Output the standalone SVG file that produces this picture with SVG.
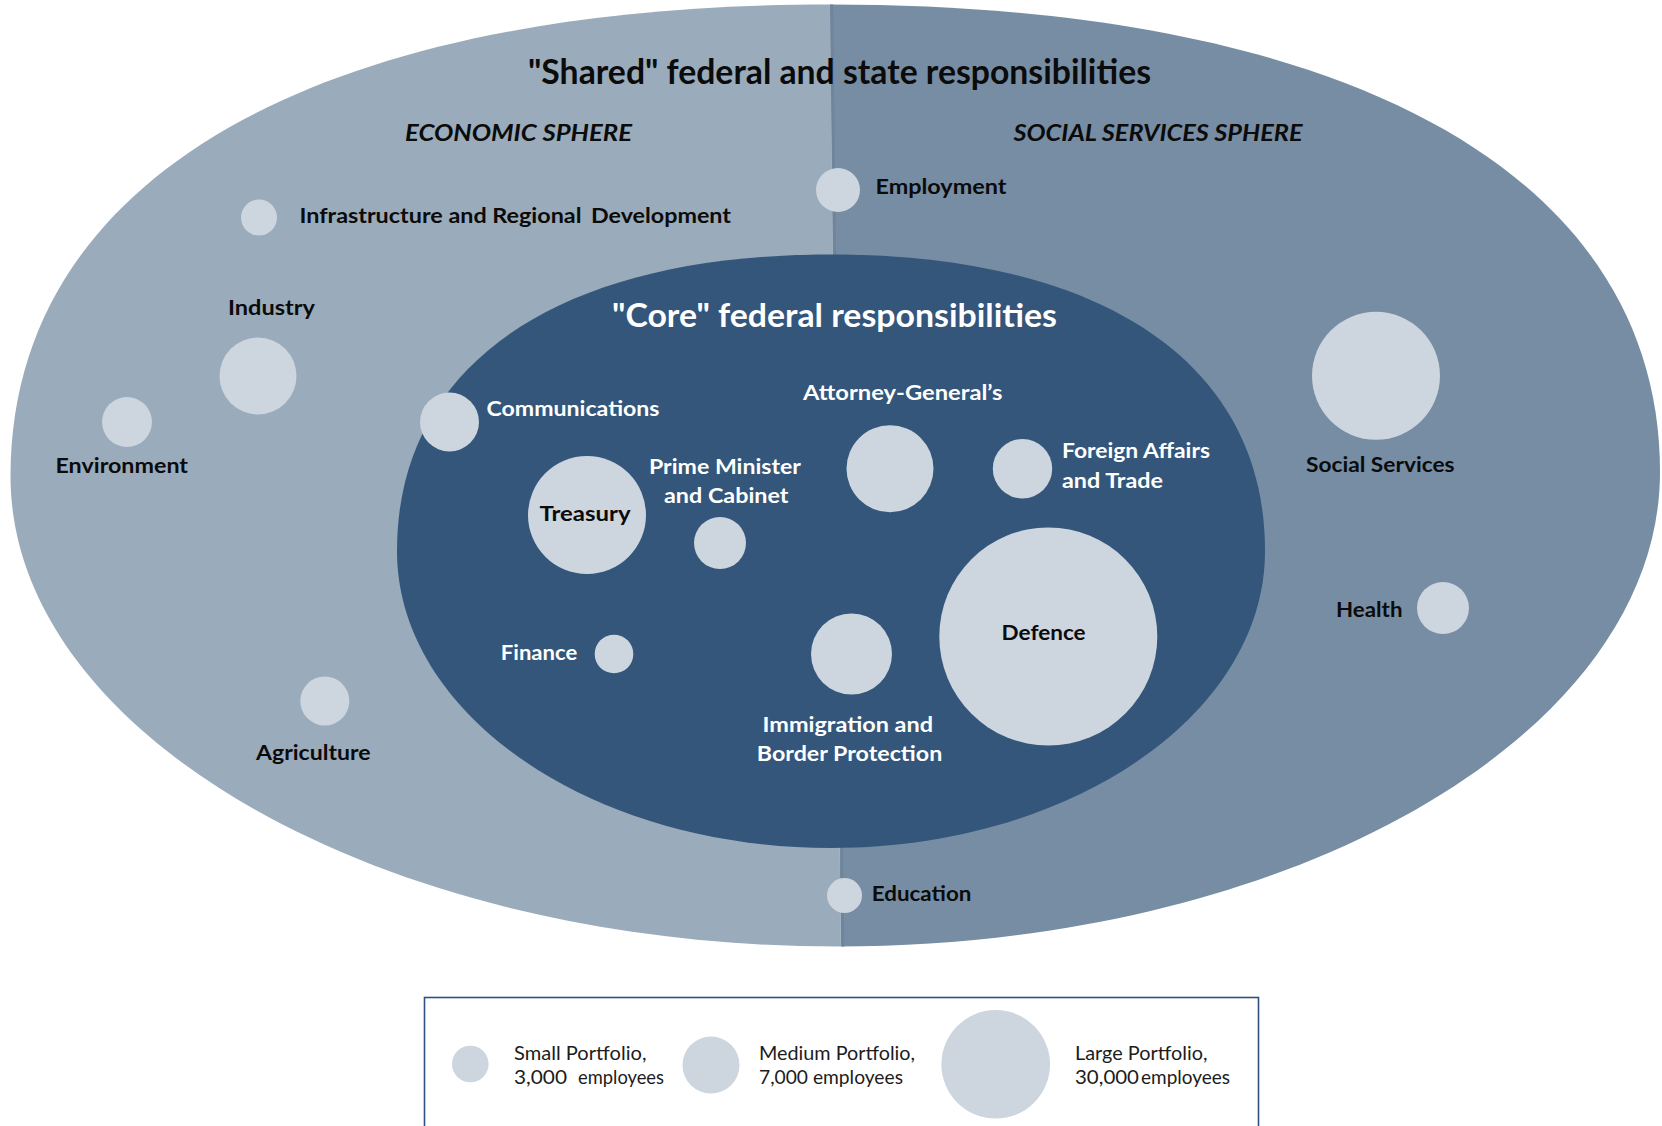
<svg xmlns="http://www.w3.org/2000/svg" width="1662" height="1126" viewBox="0 0 1662 1126">
  <style>
    .bubble { fill: #cdd5df; }
    .lbl { font-family: Lato, "Liberation Sans", Arial, sans-serif; font-weight: 700; font-size: 21.5px; }
    .dark { fill: #0b0b0b; }
    .light { fill: #ffffff; }
    .head { font-family: Lato, "Liberation Sans", Arial, sans-serif; font-weight: 700; }
    .sphere { font-family: Lato, "Liberation Sans", Arial, sans-serif; font-weight: 700; font-style: italic; font-size: 22px; fill: #0b0b0b; }
    .key { font-family: Lato, "Liberation Sans", Arial, sans-serif; font-weight: 400; font-size: 19px; fill: #1c1c1c; }
  </style>
  <defs>
    <!-- outer "shared" region outline -->
    <path id="outerShape" d="M10.5,476 C10.5,179 313.7,4.5 830,4.5 C1352.9,4.5 1660,177.5 1660,472 C1660,733.9 1292.6,946.5 838,946.5 C382.1,946.5 10.5,735.7 10.5,476 Z"/>
    <clipPath id="outerClip">
      <use href="#outerShape"/>
    </clipPath>
  </defs>

  <rect width="1662" height="1126" fill="#ffffff"/>

  <!-- shared responsibilities: economic half and social services half -->
  <g id="shared-region" clip-path="url(#outerClip)">
    <polygon points="0,0 830,0 841,960 0,960" fill="#9aabbb"/>
    <polygon points="830,0 1662,0 1662,960 841,960" fill="#778da3"/>
    <line x1="831.5" y1="0" x2="843" y2="960" stroke="#6f859b" stroke-width="3"/>
  </g>

  <!-- core federal responsibilities -->
  <g id="core-region">
    <path d="M397,551 C397,364.2 557.6,254.5 831,254.5 C1104.4,254.5 1265,364.2 1265,551 C1265,714.7 1070.6,848 831,848 C591.4,848 397,714.7 397,551 Z" fill="#33567a"/>
  </g>

  <!-- headings -->
  <g id="headings">
    <text class="head dark" x="528" y="83.5" font-size="34" textLength="623" lengthAdjust="spacingAndGlyphs">"Shared" federal and state responsibilities</text>
    <text class="sphere" x="405" y="141" textLength="227" lengthAdjust="spacingAndGlyphs">ECONOMIC SPHERE</text>
    <text class="sphere" x="1013.5" y="141" textLength="289" lengthAdjust="spacingAndGlyphs">SOCIAL SERVICES SPHERE</text>
    <text class="head light" x="612" y="326.5" font-size="32" textLength="445" lengthAdjust="spacingAndGlyphs">"Core" federal responsibilities</text>
  </g>

  <!-- portfolios -->
  <g id="employment">
    <circle class="bubble" cx="838" cy="190" r="22"/>
    <text class="lbl dark" x="875.5" y="193.5" textLength="131" lengthAdjust="spacingAndGlyphs">Employment</text>
  </g>
  <g id="infrastructure">
    <circle class="bubble" cx="259" cy="217.5" r="18"/>
    <text class="lbl dark" x="299.5" y="222.7"><tspan textLength="282" lengthAdjust="spacingAndGlyphs">Infrastructure and Regional</tspan> <tspan x="591" textLength="140" lengthAdjust="spacingAndGlyphs">Development</tspan></text>
  </g>
  <g id="industry">
    <circle class="bubble" cx="258" cy="376" r="38.5"/>
    <text class="lbl dark" x="228" y="315" textLength="87" lengthAdjust="spacingAndGlyphs">Industry</text>
  </g>
  <g id="environment">
    <circle class="bubble" cx="127" cy="422" r="25"/>
    <text class="lbl dark" x="55.5" y="472.8" textLength="132.5" lengthAdjust="spacingAndGlyphs">Environment</text>
  </g>
  <g id="agriculture">
    <circle class="bubble" cx="324.8" cy="701" r="24.5"/>
    <text class="lbl dark" x="256" y="760" textLength="114.5" lengthAdjust="spacingAndGlyphs">Agriculture</text>
  </g>
  <g id="communications">
    <circle class="bubble" cx="449.5" cy="422" r="29.5"/>
    <text class="lbl light" x="486.5" y="416.3" textLength="173" lengthAdjust="spacingAndGlyphs">Communications</text>
  </g>
  <g id="treasury">
    <circle class="bubble" cx="587" cy="515" r="59"/>
    <text class="lbl dark" x="539.5" y="521.3" textLength="91" lengthAdjust="spacingAndGlyphs">Treasury</text>
  </g>
  <g id="prime-minister-cabinet">
    <circle class="bubble" cx="720" cy="543" r="26"/>
    <text class="lbl light" x="649" y="474" textLength="152" lengthAdjust="spacingAndGlyphs">Prime Minister</text>
    <text class="lbl light" x="664" y="502.7" textLength="124.5" lengthAdjust="spacingAndGlyphs">and Cabinet</text>
  </g>
  <g id="attorney-general">
    <circle class="bubble" cx="890" cy="468.7" r="43.5"/>
    <text class="lbl light" x="803" y="400" textLength="199.5" lengthAdjust="spacingAndGlyphs">Attorney-General’s</text>
  </g>
  <g id="foreign-affairs-trade">
    <circle class="bubble" cx="1022.5" cy="468.7" r="29.7"/>
    <text class="lbl light" x="1062" y="457.5" textLength="148" lengthAdjust="spacingAndGlyphs">Foreign Affairs</text>
    <text class="lbl light" x="1062" y="488" textLength="101" lengthAdjust="spacingAndGlyphs">and Trade</text>
  </g>
  <g id="social-services">
    <circle class="bubble" cx="1376" cy="375.8" r="64"/>
    <text class="lbl dark" x="1306" y="471.5" textLength="148.5" lengthAdjust="spacingAndGlyphs">Social Services</text>
  </g>
  <g id="health">
    <circle class="bubble" cx="1443" cy="608" r="26"/>
    <text class="lbl dark" x="1336" y="617" textLength="66.5" lengthAdjust="spacingAndGlyphs">Health</text>
  </g>
  <g id="defence">
    <circle class="bubble" cx="1048.3" cy="636.5" r="109"/>
    <text class="lbl dark" x="1001.6" y="640.2" textLength="84" lengthAdjust="spacingAndGlyphs">Defence</text>
  </g>
  <g id="immigration-border-protection">
    <circle class="bubble" cx="851.5" cy="654" r="40.5"/>
    <text class="lbl light" x="762.5" y="731.8" textLength="170.5" lengthAdjust="spacingAndGlyphs">Immigration and</text>
    <text class="lbl light" x="756.8" y="761" textLength="185.5" lengthAdjust="spacingAndGlyphs">Border Protection</text>
  </g>
  <g id="finance">
    <circle class="bubble" cx="614" cy="654" r="19.3"/>
    <text class="lbl light" x="500.8" y="659.5" textLength="76.5" lengthAdjust="spacingAndGlyphs">Finance</text>
  </g>
  <g id="education">
    <circle class="bubble" cx="844.5" cy="895.5" r="17.5"/>
    <text class="lbl dark" x="871.8" y="900.6" textLength="99.6" lengthAdjust="spacingAndGlyphs">Education</text>
  </g>

  <g id="connectors"/>

  <!-- portfolio size key -->
  <g id="legend">
    <rect x="424.5" y="997.5" width="834" height="150" fill="#ffffff" stroke="#2f5080" stroke-width="1.6"/>
    <circle class="bubble" cx="470.3" cy="1064" r="18.3"/>
    <text class="key" x="514" y="1060" textLength="132.5" lengthAdjust="spacingAndGlyphs">Small Portfolio,</text>
    <text class="key" y="1083.5"><tspan x="514" textLength="53" lengthAdjust="spacingAndGlyphs">3,000</tspan> <tspan x="578" textLength="86" lengthAdjust="spacingAndGlyphs">employees</tspan></text>
    <circle class="bubble" cx="711" cy="1065" r="28.5"/>
    <text class="key" x="759" y="1060" textLength="156" lengthAdjust="spacingAndGlyphs">Medium Portfolio,</text>
    <text class="key" x="759" y="1083.5" textLength="144" lengthAdjust="spacingAndGlyphs">7,000 employees</text>
    <circle class="bubble" cx="995.7" cy="1064.3" r="54.3"/>
    <text class="key" x="1075" y="1060" textLength="132.5" lengthAdjust="spacingAndGlyphs">Large Portfolio,</text>
    <text class="key" y="1083.5"><tspan x="1075" textLength="64" lengthAdjust="spacingAndGlyphs">30,000</tspan> <tspan x="1141" textLength="89" lengthAdjust="spacingAndGlyphs">employees</tspan></text>
  </g>
</svg>
